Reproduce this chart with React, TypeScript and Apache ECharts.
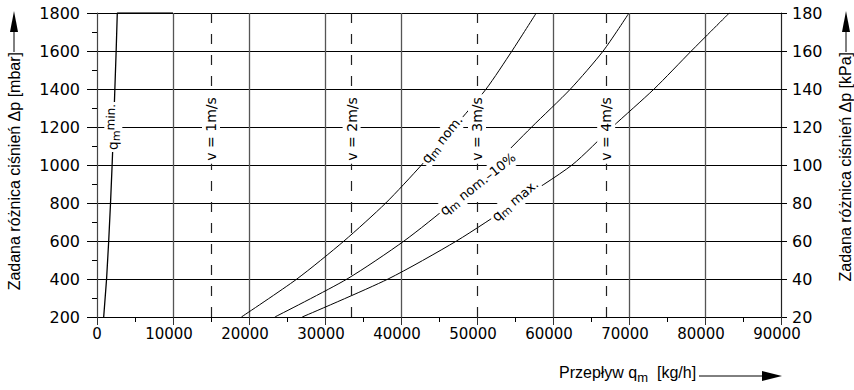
import React, { useEffect, useRef } from 'react';
import * as echarts from 'echarts';

// Pressure levels [mbar] at which flows were read
const pressureMbar = [200, 400, 600, 800, 1000, 1200, 1400, 1600, 1800];
// Flows [kg/h] read for each curve
const flowMin = [880, 1260, 1540, 1780, 1990, 2180, 2350, 2520, 2670];
const flowNom = [19000, 26300, 32500, 38000, 42700, 47000, 51200, 54600, 57800];
const flowNom10 = [23400, 32900, 40400, 46700, 52200, 57200, 62300, 66600, 70000];
const flowMax = [27000, 38300, 47300, 55000, 62500, 67800, 73300, 78200, 83200];
const minTopEnd = [10000, 1800];

// Velocity reference lines
const velocityFlows = [15000, 33500, 50000, 67000];
const velocityTexts = ['v = 1m/s', 'v = 2m/s', 'v = 3m/s', 'v = 4m/s'];
const velocityLabelDp = 1190;

// Solid vertical grid lines (50000 is replaced by the 3 m/s dashed line)
const gridFlows = [10000, 20000, 30000, 40000, 60000, 70000, 80000];

// Curve labels
const curveLabelTexts = [
  '{q|q}{s|m}{p|min.}',
  '{q|q}{s|m}{t| nom.}',
  '{q|q}{s|m}{t| nom.–10%}',
  '{q|q}{s|m}{t| max.}',
];
const curveLabelAt = [
  [2150, 1200],
  [45400, 1135],
  [50100, 900],
  [55000, 814],
];
const curveLabelAngle = [88, 51, 38, 40];

const TICK_FONT = '"DejaVu Sans", sans-serif';
const NAME_FONT = '"Liberation Sans", Arial, sans-serif';

const zip = (xs: number[], ys: number[]) => xs.map((x, i) => [x, ys[i]]);

export default function App() {
  const ref = useRef<HTMLDivElement>(null);

  useEffect(() => {
    if (!ref.current) return;
    const chart = echarts.init(ref.current, undefined, { renderer: 'svg' });

    const curveLine = { color: '#000', width: 1 };
    const tok = (size: number, lh: number, va?: string) => ({
      fontSize: size,
      fontFamily: TICK_FONT,
      color: '#000',
      opacity: 1,
      fontWeight: 'normal',
      lineHeight: lh,
      textBorderWidth: 0,
      textBorderColor: 'transparent',
      ...(va ? { verticalAlign: va } : {}),
    });
    const richLabel = {
      q: tok(14, 18),
      s: tok(11, 11, 'bottom'),
      t: tok(13, 18),
      p: tok(12, 12, 'top'),
    };

    const option: any = {
      animation: false,
      grid: { left: 97, right: 73, top: 13, bottom: 73, containLabel: false },
      xAxis: {
        type: 'value',
        min: 0,
        max: 90000,
        interval: 10000,
        axisLine: { show: true, onZero: false, lineStyle: { color: '#000', width: 1 } },
        axisTick: { show: true, length: 8, lineStyle: { color: '#333', width: 1 } },
        minorTick: { show: true, splitNumber: 2, length: 5, lineStyle: { color: '#000', width: 1 } },
        splitLine: { show: false },
        axisLabel: {
          margin: 9,
          color: '#000',
          formatter: (v: number) => (v === 0 ? '{z|0}' : '{n|' + String(v) + '}'),
          rich: {
            z: { fontFamily: TICK_FONT, fontSize: 15, color: '#000' },
            n: { fontFamily: TICK_FONT, fontSize: 15, color: '#000', padding: [0, 8, 0, 0] },
          },
        },
      },
      yAxis: [
        {
          type: 'value',
          position: 'left',
          min: 200,
          max: 1800,
          interval: 200,
          axisLine: { show: true, onZero: false, lineStyle: { color: '#444', width: 1.2 } },
          axisTick: { show: true, length: 10, lineStyle: { color: '#000', width: 1 } },
          minorTick: { show: true, splitNumber: 2, length: 5, lineStyle: { color: '#000', width: 1 } },
          splitLine: { show: true, lineStyle: { color: '#000', width: 1 } },
          axisLabel: {
            margin: 17,
            fontFamily: TICK_FONT,
            fontSize: 16,
            color: '#000',
            formatter: (v: number) => String(v),
          },
        },
        {
          type: 'value',
          position: 'right',
          min: 20,
          max: 180,
          interval: 20,
          axisLine: { show: true, onZero: false, lineStyle: { color: '#222', width: 1.2 } },
          axisTick: { show: true, length: 6, lineStyle: { color: '#000', width: 1 } },
          splitLine: { show: false },
          axisLabel: {
            margin: 11,
            fontFamily: TICK_FONT,
            fontSize: 16,
            color: '#000',
            formatter: (v: number) => String(v),
          },
        },
      ],
      series: [
        {
          type: 'line',
          name: 'min',
          data: [...zip(flowMin, pressureMbar), minTopEnd],
          symbol: 'none',
          lineStyle: { color: '#000', width: 1.3 },
          z: 3,
          markLine: {
            silent: true,
            symbol: ['none', 'none'],
            label: { show: false },
            lineStyle: { color: '#555', width: 1.3, type: 'solid' },
            data: gridFlows.map((v) => ({ xAxis: v })),
            z: 1,
          },
        },
        {
          type: 'line',
          name: 'nom',
          data: zip(flowNom, pressureMbar),
          smooth: 0.25,
          symbol: 'none',
          lineStyle: curveLine,
          z: 3,
          markLine: {
            silent: true,
            symbol: ['none', 'none'],
            label: { show: false },
            lineStyle: { color: '#222', width: 1.2, type: [10, 11] },
            data: velocityFlows.map((v) => ({ xAxis: v })),
          },
        },
        {
          type: 'line',
          name: 'nom10',
          data: zip(flowNom10, pressureMbar),
          smooth: 0.25,
          symbol: 'none',
          lineStyle: curveLine,
          z: 3,
        },
        {
          type: 'line',
          name: 'max',
          data: zip(flowMax, pressureMbar),
          smooth: 0.25,
          symbol: 'none',
          lineStyle: curveLine,
          z: 3,
        },
        {
          type: 'scatter',
          name: 'velocityLabels',
          symbolSize: 1,
          itemStyle: { color: '#fff', opacity: 1 },
          z: 6,
          silent: true,
          data: velocityFlows.map((v, i) => ({
            value: [v, velocityLabelDp],
            label: {
              show: true,
              position: 'inside',
              rotate: 90,
              formatter: velocityTexts[i],
              fontFamily: TICK_FONT,
              fontSize: 14,
              color: '#000',
              opacity: 1,
              textBorderWidth: 0,
              textBorderColor: 'transparent',
              backgroundColor: '#fff',
              padding: [2, 3],
            },
          })),
        },
        {
          type: 'scatter',
          name: 'curveLabels',
          symbolSize: 1,
          itemStyle: { color: '#fff', opacity: 1 },
          z: 7,
          silent: true,
          data: curveLabelAt.map((p, i) => ({
            value: p,
            label: {
              show: true,
              position: 'inside',
              rotate: curveLabelAngle[i],
              formatter: curveLabelTexts[i],
              color: '#000',
              opacity: 1,
              textBorderWidth: 0,
              textBorderColor: 'transparent',
              rich: richLabel,
              backgroundColor: '#fff',
              padding: [0, 2],
            },
          })),
        },
      ],
      graphic: [
        {
          type: 'text',
          x: 14,
          y: 52,
          rotation: Math.PI / 2,
          style: {
            text: 'Zadana różnica ciśnień Δp [mbar]',
            font: '16px ' + NAME_FONT,
            fill: '#000',
            align: 'right',
            verticalAlign: 'middle',
          },
        },
        { type: 'line', shape: { x1: 14, y1: 52, x2: 14, y2: 30 }, style: { stroke: '#000', lineWidth: 1 } },
        { type: 'polygon', shape: { points: [[14, 11], [10, 32], [18, 32]] }, style: { fill: '#000' } },
        {
          type: 'text',
          x: 845,
          y: 52,
          rotation: Math.PI / 2,
          style: {
            text: 'Zadana różnica ciśnień Δp [kPa]',
            font: '16px ' + NAME_FONT,
            fill: '#000',
            align: 'right',
            verticalAlign: 'middle',
          },
        },
        { type: 'line', shape: { x1: 846, y1: 52, x2: 846, y2: 30 }, style: { stroke: '#000', lineWidth: 1 } },
        { type: 'polygon', shape: { points: [[846, 11], [842, 32], [850, 32]] }, style: { fill: '#000' } },
        {
          type: 'text',
          x: 559,
          y: 372,
          style: {
            text: '{a|Przepływ q}{s|m}{a|  [kg/h]}',
            rich: {
              a: { fontSize: 16, fontFamily: NAME_FONT, lineHeight: 24, fill: '#000', color: '#000' },
              s: { fontSize: 13, fontFamily: NAME_FONT, lineHeight: 13, verticalAlign: 'bottom', fill: '#000', color: '#000' },
            },
            align: 'left',
            verticalAlign: 'middle',
          },
        },
        { type: 'line', shape: { x1: 699, y1: 376, x2: 764, y2: 376 }, style: { stroke: '#000', lineWidth: 1 } },
        { type: 'polygon', shape: { points: [[782, 376], [762, 371], [762, 381]] }, style: { fill: '#000' } },
      ],
    };

    chart.setOption(option);
    return () => chart.dispose();
  }, []);

  return (
    <div
      ref={ref}
      style={{ position: 'absolute', left: 0, top: 0, width: 854, height: 390, background: '#fff' }}
    />
  );
}
